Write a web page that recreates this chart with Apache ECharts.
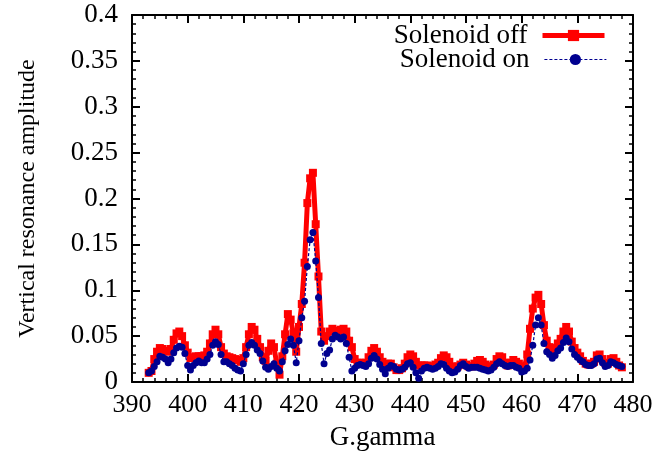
<!DOCTYPE html>
<html>
<head>
<meta charset="utf-8">
<script src="https://cdn.jsdelivr.net/npm/echarts@6/dist/echarts.min.js"></script>
<style>
  html, body { margin: 0; padding: 0; background: #fff; }
  #chart { width: 659px; height: 462px; }
</style>
</head>
<body>
<div id="chart"></div>
<script>
// G.gamma scan points
const gGamma = [
  393, 393.5, 394, 394.5, 395, 395.5, 396, 396.5, 397, 397.5, 398, 398.5, 399, 399.5,
  400, 400.5, 401, 401.5, 402, 402.5, 403, 403.5, 404, 404.5, 405, 405.5, 406, 406.5,
  407, 407.5, 408, 408.5, 409, 409.5, 410, 410.5, 411, 411.5, 412, 412.5, 413, 413.5,
  414, 414.5, 415, 415.5, 416, 416.5, 417, 417.5, 418, 418.5, 419, 419.5, 420, 420.5,
  421, 421.5, 422, 422.5, 423, 423.5, 424, 424.5, 425, 425.5, 426, 426.5, 427, 427.5,
  428, 428.5, 429, 429.5, 430, 430.5, 431, 431.5, 432, 432.5, 433, 433.5, 434, 434.5,
  435, 435.5, 436, 436.5, 437, 437.5, 438, 438.5, 439, 439.5, 440, 440.5, 441, 441.5,
  442, 442.5, 443, 443.5, 444, 444.5, 445, 445.5, 446, 446.5, 447, 447.5, 448, 448.5,
  449, 449.5, 450, 450.5, 451, 451.5, 452, 452.5, 453, 453.5, 454, 454.5, 455, 455.5,
  456, 456.5, 457, 457.5, 458, 458.5, 459, 459.5, 460, 460.5, 461, 461.5, 462, 462.5,
  463, 463.5, 464, 464.5, 465, 465.5, 466, 466.5, 467, 467.5, 468, 468.5, 469, 469.5,
  470, 470.5, 471, 471.5, 472, 472.5, 473, 473.5, 474, 474.5, 475, 475.5, 476, 476.5,
  477, 477.5, 478
];

// Vertical resonance amplitude, solenoid off
const solenoidOff = [
  0.010, 0.012, 0.025, 0.033, 0.037, 0.036, 0.034, 0.033, 0.036, 0.046, 0.053, 0.055, 0.050, 0.040,
  0.032, 0.026, 0.027, 0.028, 0.028, 0.028, 0.029, 0.033, 0.042, 0.052, 0.057, 0.052, 0.038, 0.031,
  0.028, 0.027, 0.026, 0.025, 0.024, 0.022, 0.026, 0.038, 0.052, 0.060, 0.057, 0.047, 0.038, 0.027,
  0.023, 0.034, 0.042, 0.038, 0.020, 0.008, 0.028, 0.052, 0.074, 0.068, 0.053, 0.033, 0.060, 0.085,
  0.130, 0.195, 0.222, 0.228, 0.172, 0.115, 0.055, 0.045, 0.050, 0.055, 0.058, 0.056, 0.053, 0.057,
  0.058, 0.055, 0.045, 0.038, 0.025, 0.021, 0.021, 0.020, 0.021, 0.027, 0.034, 0.037, 0.033, 0.027,
  0.022, 0.019, 0.020, 0.020, 0.016, 0.013, 0.013, 0.015, 0.020, 0.027, 0.030, 0.028, 0.022, 0.018,
  0.018, 0.018, 0.018, 0.017, 0.017, 0.019, 0.021, 0.026, 0.029, 0.027, 0.022, 0.017, 0.016, 0.017,
  0.019, 0.021, 0.019, 0.017, 0.017, 0.020, 0.023, 0.024, 0.022, 0.019, 0.017, 0.017, 0.019, 0.025,
  0.028, 0.027, 0.021, 0.018, 0.021, 0.024, 0.022, 0.020, 0.017, 0.016, 0.030, 0.058, 0.080, 0.092,
  0.095, 0.085, 0.062, 0.045, 0.038, 0.035, 0.037, 0.042, 0.047, 0.055, 0.060, 0.055, 0.044, 0.037,
  0.032, 0.028, 0.023, 0.020, 0.019, 0.020, 0.022, 0.029, 0.030, 0.025, 0.021, 0.020, 0.025, 0.026,
  0.022, 0.018, 0.016
];

// Vertical resonance amplitude, solenoid on
const solenoidOn = [
  0.010, 0.012, 0.017, 0.022, 0.028, 0.027, 0.025, 0.021, 0.025, 0.032, 0.037, 0.039, 0.038, 0.031,
  0.018, 0.013, 0.018, 0.021, 0.023, 0.021, 0.021, 0.025, 0.030, 0.040, 0.044, 0.041, 0.030, 0.022,
  0.022, 0.020, 0.018, 0.015, 0.013, 0.012, 0.020, 0.030, 0.040, 0.043, 0.040, 0.035, 0.031, 0.023,
  0.016, 0.014, 0.017, 0.020, 0.015, 0.012, 0.022, 0.034, 0.041, 0.047, 0.040, 0.021, 0.045, 0.070,
  0.088, 0.126, 0.155, 0.163, 0.132, 0.092, 0.042, 0.020, 0.031, 0.035, 0.047, 0.051, 0.049, 0.047,
  0.049, 0.042, 0.027, 0.012, 0.015, 0.018, 0.019, 0.018, 0.017, 0.020, 0.026, 0.029, 0.025, 0.019,
  0.014, 0.009, 0.015, 0.018, 0.017, 0.014, 0.013, 0.014, 0.016, 0.020, 0.021, 0.016, 0.010, 0.004,
  0.012, 0.015, 0.016, 0.015, 0.014, 0.015, 0.017, 0.020, 0.019, 0.015, 0.012, 0.010, 0.011, 0.014,
  0.018, 0.020, 0.017, 0.015, 0.016, 0.016, 0.016, 0.015, 0.014, 0.013, 0.012, 0.013, 0.016, 0.020,
  0.022, 0.020, 0.018, 0.017, 0.018, 0.018, 0.016, 0.015, 0.011, 0.012, 0.015, 0.024, 0.040, 0.062,
  0.070, 0.062, 0.042, 0.033, 0.030, 0.026, 0.029, 0.034, 0.037, 0.043, 0.048, 0.044, 0.036, 0.030,
  0.027, 0.024, 0.022, 0.019, 0.018, 0.018, 0.020, 0.025, 0.026, 0.021, 0.017, 0.018, 0.022, 0.021,
  0.019, 0.018, 0.017
];

const seriesNames = ['Solenoid off', 'Solenoid on'];
const xTitle = 'G.gamma';
const yTitle = 'Vertical resonance amplitude';

const FONT = '"Liberation Serif", "DejaVu Serif", serif';

function pairs(xs, ys) {
  return xs.map((x, i) => [x, ys[i]]);
}

// shared frame styling: ticks drawn inward on every side
function frameAxis(extra) {
  return Object.assign({
    axisLine: { show: true, onZero: false, lineStyle: { color: '#000', width: 2 } },
    axisTick: { show: true, inside: true, length: 8, lineStyle: { color: '#000', width: 2 } },
    minorTick: { show: true, splitNumber: 5, length: 4, lineStyle: { color: '#000', width: 1.5 } },
    splitLine: { show: false },
    minorSplitLine: { show: false }
  }, extra);
}

// one key row per series, stacked in the top-right corner
function keyRow(entry, top) {
  return {
    data: [entry],
    right: 47,
    top: top,
    align: 'right',
    itemWidth: 62,
    itemHeight: 14,
    textStyle: { fontFamily: FONT, fontSize: 27, color: '#000', lineHeight: 22, padding: [0, 10, 0, 0] }
  };
}

const xRange = { type: 'value', min: 390, max: 480, interval: 10 };
const yRange = { type: 'value', min: 0, max: 0.4, interval: 0.05 };

const chart = echarts.init(document.getElementById('chart'), null, { renderer: 'canvas' });

chart.setOption({
  animation: false,
  backgroundColor: '#fff',
  textStyle: { fontFamily: FONT },
  grid: { left: 132, right: 26, top: 15, bottom: 80, containLabel: false },
  legend: [
    keyRow({ name: seriesNames[0], lineStyle: { width: 5 }, itemStyle: { color: '#ff0000' } }, 17),
    keyRow({ name: seriesNames[1], lineStyle: { width: 1.2 } }, 41)
  ],
  xAxis: [
    frameAxis(Object.assign({}, xRange, {
      position: 'bottom',
      name: xTitle,
      nameLocation: 'middle',
      nameGap: 42,
      nameTextStyle: { fontFamily: FONT, fontSize: 27, color: '#000' },
      axisLabel: { show: true, margin: 10, fontFamily: FONT, fontSize: 26, color: '#000' }
    })),
    frameAxis(Object.assign({}, xRange, {
      position: 'top',
      axisLabel: { show: false }
    }))
  ],
  yAxis: [
    frameAxis(Object.assign({}, yRange, {
      position: 'left',
      name: yTitle,
      nameLocation: 'middle',
      nameGap: 92,
      nameTextStyle: { fontFamily: FONT, fontSize: 24, color: '#000' },
      axisLabel: { show: true, margin: 14, fontFamily: FONT, fontSize: 27, color: '#000' }
    })),
    frameAxis(Object.assign({}, yRange, {
      position: 'right',
      axisLabel: { show: false }
    }))
  ],
  series: [
    {
      name: seriesNames[0],
      type: 'line',
      xAxisIndex: 0,
      yAxisIndex: 0,
      data: pairs(gGamma, solenoidOff),
      color: '#ff0000',
      lineStyle: { color: '#ff0000', width: 5 },
      symbol: 'rect',
      symbolSize: 8,
      itemStyle: { color: '#ff0000' },
      showSymbol: true,
      z: 2
    },
    {
      name: seriesNames[1],
      type: 'line',
      xAxisIndex: 0,
      yAxisIndex: 0,
      data: pairs(gGamma, solenoidOn),
      color: '#000090',
      lineStyle: { color: '#000090', width: 1.2, type: [3, 2] },
      symbol: 'circle',
      symbolSize: 7,
      itemStyle: { color: '#000090' },
      showSymbol: true,
      z: 3
    }
  ]
});
</script>
</body>
</html>
